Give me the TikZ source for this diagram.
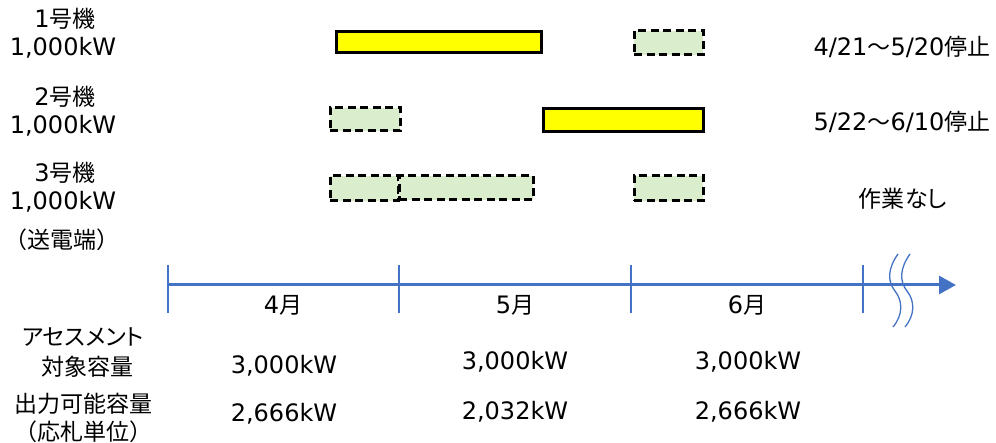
\documentclass[tikz,border=0pt]{standalone}
\usepackage{fontspec}
\setmainfont{DejaVu Sans}
\newfontfamily\jpfont{Noto Sans CJK JP}
\newfontfamily\jpfontp[RawFeature={+palt}]{Noto Sans CJK JP}
\newcommand\jtxt[1]{{\jpfont\fontsize{23}{27}\selectfont #1}}
\newcommand\jtxtp[1]{{\jpfontp\fontsize{23}{27}\selectfont #1}}
\usetikzlibrary{arrows.meta}
\definecolor{stopyellow}{RGB}{255,255,0}
\definecolor{workgreen}{RGB}{218,238,206}
\definecolor{axisblue}{RGB}{68,114,196}
\tikzset{
  txt/.style={inner sep=0pt, font=\fontsize{24}{28}\selectfont, align=center},
  stopbox/.style={draw=black, line width=3pt, fill=stopyellow, inner sep=0pt},
  workbox/.style={draw=black, line width=3pt, dash pattern=on 8pt off 4.5pt, fill=workgreen, inner sep=0pt},
  tickline/.style={draw=axisblue, line width=1.3pt},
  breakline/.style={draw=axisblue, line width=1.3pt},
}
\begin{document}
\begin{tikzpicture}[x=1pt,y=-1pt]
\useasboundingbox (0,0) rectangle (996,443);
% left labels
\node[txt] (u1) at (65,19) {1\jtxtp{号機}};
\node[txt] (c1) at (63,48) {1,000kW};
\node[txt] (u2) at (65,97) {2\jtxtp{号機}};
\node[txt] (c2) at (63,126) {1,000kW};
\node[txt] (u3) at (65,173) {3\jtxtp{号機}};
\node[txt] (c3) at (63,202) {1,000kW};
\node[txt] (se) at (62,240) {\jtxt{（送電端）}};
% boxes
\node[stopbox, minimum width=205pt, minimum height=21pt] (b1a) at (438.5,42.5) {};
\node[workbox, minimum width=69pt, minimum height=24pt] (b1b) at (668.5,43) {};
\node[workbox, minimum width=70pt, minimum height=23pt] (b2a) at (365,119.5) {};
\node[stopbox, minimum width=160pt, minimum height=23pt] (b2b) at (623,120.5) {};
\node[workbox, minimum width=68pt, minimum height=25pt] (b3a) at (364,188.5) {};
\node[workbox, minimum width=134pt, minimum height=24pt] (b3b) at (466,188) {};
\node[workbox, minimum width=69pt, minimum height=25pt] (b3c) at (668.5,188.5) {};
% right labels
\node[txt] (r1) at (902,47) {4/21\jtxtp{～}5/20\jtxtp{停止}};
\node[txt] (r2) at (902,122) {5/22\jtxtp{～}6/10\jtxtp{停止}};
\node[txt] (r3) at (903,199) {\jtxtp{作業なし}};
% axis
\coordinate (ax0) at (168,285);
\coordinate (ax1) at (956,285);
\draw[draw=axisblue, line width=3pt, -{Triangle[length=17pt,width=18pt]}] (ax0) -- (ax1);
\foreach \x/\n in {168/t0,399/t1,631/t2,863/t3}{
  \coordinate (\n a) at (\x,265);
  \coordinate (\n b) at (\x,313);
  \draw[tickline] (\n a) -- (\n b);
}
\draw[breakline] (898,254) .. controls (888,268) and (887,281) .. (895,291) .. controls (903,301) and (903,315) .. (893,327);
\draw[breakline] (910,254) .. controls (900,268) and (899,281) .. (907,291) .. controls (915,301) and (915,315) .. (905,327);
% months
\node[txt] (m4) at (283,305) {4\jtxtp{月}};
\node[txt] (m5) at (515,305) {5\jtxtp{月}};
\node[txt] (m6) at (747,305) {6\jtxtp{月}};
% bottom
\node[txt] (l1) at (83,337) {\jtxtp{アセスメント}};
\node[txt] (l2) at (87,367) {\jtxt{対象容量}};
\node[txt] (l3) at (83,404) {\jtxt{出力可能容量}};
\node[txt] (l4) at (83,432) {\jtxt{（応札単位）}};
\node[txt] (a1) at (284,366) {3,000kW};
\node[txt] (a2) at (515,362) {3,000kW};
\node[txt] (a3) at (748,362) {3,000kW};
\node[txt] (p1) at (284,414) {2,666kW};
\node[txt] (p2) at (515,412) {2,032kW};
\node[txt] (p3) at (748,412) {2,666kW};
\end{tikzpicture}
\end{document}
